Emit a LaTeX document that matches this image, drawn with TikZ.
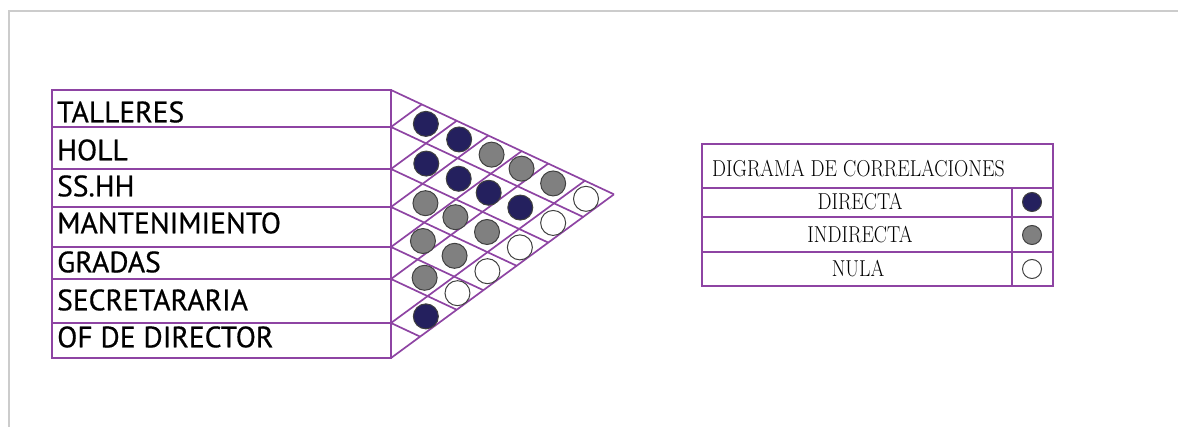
\documentclass[tikz,border=0pt]{standalone}
\usepackage{fontspec}
\setsansfont{PT Sans}[FakeBold=0.6]
\newfontfamily\leyfont[FakeStretch=0.86]{Latin Modern Roman}
\usetikzlibrary{positioning, calc}
\definecolor{lila}{RGB}{142,68,163}
\definecolor{azul}{RGB}{36,32,94}
\definecolor{gris}{RGB}{128,128,128}

\begin{document}
\begin{tikzpicture}[
    x=1pt, y=-1pt,
    linea/.style={draw=lila, line width=1.7pt},
    etiqueta/.style={anchor=west, inner sep=0pt, font=\sffamily\fontsize{29.5}{29.5}\selectfont},
    leyenda/.style={inner sep=0pt, font=\leyfont\fontsize{23}{23}\selectfont},
    circdir/.style={circle, draw=black!75, line width=1pt, fill=azul, minimum size=25pt, inner sep=0pt},
    circind/.style={circle, draw=black!75, line width=1pt, fill=gris, minimum size=25pt, inner sep=0pt},
    circnul/.style={circle, draw=black!75, line width=1pt, fill=white, minimum size=25pt, inner sep=0pt}
]
    \useasboundingbox (0,0) rectangle (1178,427);
    \draw[gray!40, line width=1.5pt] (9,427) -- (9,11) -- (1178,11);

    % filas de la matriz
    \draw[linea] (52,90) rectangle (391,358);
    \foreach \b in {127,169,207,247,279,323}
        \draw[linea] (52,\b) -- (391,\b);
    \def\centros{{108.5,148,188,227,263,301,340.5}}
    \foreach \nombre/\y [count=\i] in {TALLERES/112, HOLL/150, SS.HH/186, MANTENIMIENTO/223,
                                       GRADAS/262, SECRETARARIA/300, OF DE DIRECTOR/337}
        \node[etiqueta] (f\i) at (57,\y) {\nombre};

    % triangulo
    \foreach \b in {90,127,169,207,247,279,323,358} {
        \pgfmathsetmacro\ta{(358-\b)/1.202}
        \pgfmathsetmacro\tb{(\b-90)/1.202}
        \draw[linea] (391,\b) -- ++(\ta,0.468*\ta);
        \draw[linea] (391,\b) -- ++(\tb,-0.734*\tb);
    }

    % correlaciones
    \foreach \i/\fila in {1/{circdir,circdir,circind,circind,circind,circnul},
                          2/{circdir,circdir,circdir,circdir,circnul},
                          3/{circind,circind,circind,circnul},
                          4/{circind,circind,circnul},
                          5/{circind,circnul},
                          6/{circdir}} {
        \foreach \tipo [count=\k] in \fila {
            \pgfmathtruncatemacro\j{\i+\k}
            \pgfmathsetmacro\ci{\centros[\i-1]}
            \pgfmathsetmacro\cj{\centros[\j-1]}
            \pgfmathsetmacro\t{(\cj-\ci)/1.202}
            \node[\tipo] (c-\i-\j) at (393+\t,\ci+0.468*\t) {};
        }
    }

    % leyenda
    \draw[linea] (702,144) rectangle (1053,286);
    \foreach \b in {188,217,252}
        \draw[linea] (702,\b) -- (1053,\b);
    \draw[linea] (1012,188) -- (1012,286);
    \node[leyenda, anchor=west] (titulo) at (712,169) {DIGRAMA DE CORRELACIONES};
    \node[leyenda] (directa) at (860,202) {DIRECTA};
    \node[leyenda] (indirecta) at (860,235) {INDIRECTA};
    \node[leyenda] (nula) at (858,269) {NULA};
    \node[circdir, minimum size=19pt] (ldir) at (1032,202) {};
    \node[circind, minimum size=19pt] (lind) at (1032,235) {};
    \node[circnul, minimum size=19pt] (lnul) at (1032,269) {};
\end{tikzpicture}
\end{document}
